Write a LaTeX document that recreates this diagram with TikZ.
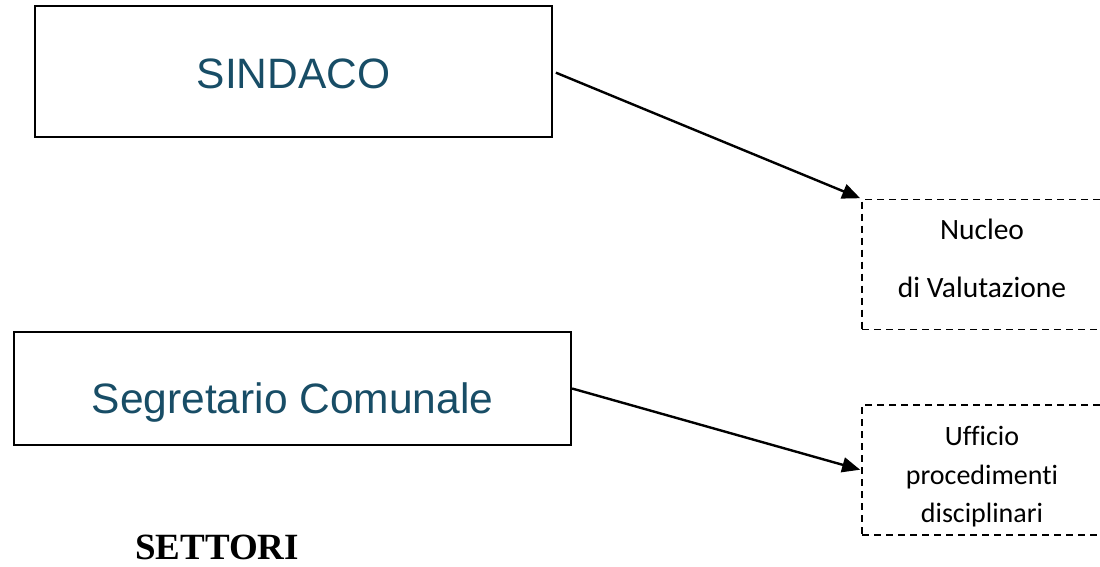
\documentclass[tikz,border=0pt]{standalone}
\usepackage{fontspec}
\setmainfont{Liberation Serif}
\newfontfamily\arialfont{Liberation Sans}
\newfontfamily\calibrifont[Ligatures=NoCommon]{Carlito}
\usetikzlibrary{arrows.meta}
\definecolor{titleblue}{RGB}{24,77,102}

\begin{document}
\begin{tikzpicture}[x=1pt,y=-1pt,
  headbox/.style={draw,line width=2.2pt,inner sep=0pt,text=titleblue,
    font=\arialfont\fontsize{42.5}{50}\selectfont,text depth=0pt},
  dashbox/.style={draw,line width=1.8pt,dash pattern=on 7pt off 5pt,inner sep=0pt,
    minimum width=240pt,minimum height=130pt,align=center},
  arr/.style={line width=2.4pt,-{Triangle[length=18pt,width=15pt]}}]
\useasboundingbox (0,0) rectangle (1100,566);
\clip (0,0) rectangle (1100,566);
\node[headbox,minimum width=517pt,minimum height=131pt,text height=33pt] (sindaco) at (293.5,71.5) {SINDACO};
\node[headbox,minimum width=557pt,minimum height=113pt,text height=50pt] (segretario) at (292.5,388.5) {Segretario Comunale};
\node[dashbox,font=\calibrifont\fontsize{29.5}{58}\selectfont] (nucleo) at (982,264.5) {Nucleo\\di Valutazione\rule[-12pt]{0pt}{1pt}};
\node[dashbox,font=\calibrifont\fontsize{28}{38.5}\selectfont] (ufficio) at (982,470) {\rule{0pt}{33pt}Ufficio\\procedimenti\\disciplinari};
\node[anchor=base,inner sep=0pt,font=\bfseries\fontsize{37}{44}\selectfont] (settori) at (217,559) {SETTORI};
\draw[arr,shorten <=3pt,shorten >=1pt] (sindaco.east) -- (nucleo.north west);
\draw[arr,shorten >=1pt] (segretario.east) -- (ufficio.west);
\end{tikzpicture}
\end{document}
